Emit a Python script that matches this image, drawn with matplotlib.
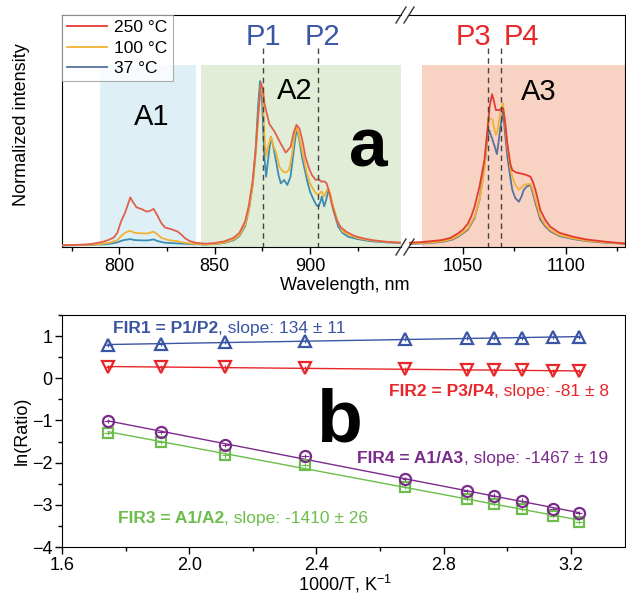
import matplotlib
matplotlib.use('Agg')
import matplotlib.pyplot as plt
import numpy as np

plt.rcParams['font.family'] = ['Liberation Sans', 'DejaVu Sans']
plt.rcParams['mathtext.default'] = 'regular'

# ---- panel a: spectra, left segment (770-948 nm) ----
wl_red_l = [770, 780, 785, 788, 791, 794, 797, 799, 801, 803, 804.5, 805.8, 807, 809, 812, 814.5,
            816.5, 818, 820, 822, 824, 827, 830.5, 832.5, 834.5, 837, 840, 845, 850, 855, 860, 863,
            866, 868, 870, 871.5, 873, 874.3, 875.3, 876.2, 877.2, 878.7, 881.3, 884.7, 887.3, 889.8,
            891.5, 892.9, 894.5, 896, 897.6, 899.5, 901, 903, 904.5, 906, 907.5, 908.7, 910, 911.3,
            913.9, 916, 919, 923, 927.7, 933, 939.7, 947.7]
int_red_l = [0.005, 0.008, 0.012, 0.018, 0.024, 0.035, 0.05, 0.08, 0.15, 0.2, 0.25, 0.295, 0.27, 0.235,
             0.222, 0.208, 0.215, 0.225, 0.185, 0.14, 0.112, 0.103, 0.088, 0.07, 0.047, 0.03, 0.02,
             0.014, 0.018, 0.028, 0.05, 0.08, 0.15, 0.25, 0.4, 0.58, 0.82, 0.99, 0.95, 0.86, 0.81, 0.74,
             0.695, 0.62, 0.566, 0.6, 0.69, 0.735, 0.71, 0.64, 0.54, 0.47, 0.43, 0.4, 0.405, 0.39,
             0.392, 0.38, 0.33, 0.26, 0.16, 0.115, 0.087, 0.062, 0.047, 0.035, 0.026, 0.02]

wl_org_l = [770, 785, 790, 795, 799, 801, 803, 805.8, 808, 811, 814.5, 816.5, 818, 820, 822, 826, 830,
            834, 840, 845, 850, 855, 860, 863, 866, 868, 870, 871.5, 873, 874.3, 875.3, 876.2, 877,
            878, 879.5, 881, 882.1, 884, 885.5, 887.3, 889, 890.5, 892, 892.9, 894, 895.8, 898.4, 900,
            901.9, 903.5, 904.5, 905.5, 906.2, 907.4, 908.5, 909.6, 911, 912.2, 914.8, 917, 920.8, 925,
            931, 940, 947.7]
int_org_l = [0.004, 0.008, 0.012, 0.02, 0.035, 0.06, 0.08, 0.093, 0.08, 0.077, 0.076, 0.082, 0.088,
             0.07, 0.05, 0.035, 0.03, 0.02, 0.012, 0.01, 0.013, 0.02, 0.04, 0.065, 0.13, 0.22, 0.37,
             0.55, 0.8, 0.99, 0.9, 0.65, 0.545, 0.6, 0.662, 0.6, 0.57, 0.48, 0.455, 0.445, 0.46, 0.55,
             0.68, 0.725, 0.68, 0.58, 0.44, 0.38, 0.34, 0.315, 0.31, 0.325, 0.33, 0.3, 0.33, 0.35, 0.3,
             0.238, 0.137, 0.09, 0.066, 0.048, 0.035, 0.025, 0.02]

wl_teal_l = [770, 785, 790, 795, 799, 802, 805.8, 808, 812, 815, 818, 820, 824, 830, 840, 845, 850,
             855, 860, 863, 866, 868, 870, 871.5, 872.8, 873.8, 874.8, 876, 877, 878, 879.5, 880.8,
             882.1, 883.5, 884.7, 886.4, 888.1, 889.8, 891.5, 893, 894.3, 895.8, 898.4, 900, 901.9,
             903.5, 904.5, 905.5, 906.2, 907.4, 908.5, 909.6, 911, 912.2, 914.8, 917, 920, 925, 931,
             940, 947.7]
int_teal_l = [0.003, 0.006, 0.009, 0.013, 0.022, 0.035, 0.042, 0.036, 0.034, 0.034, 0.04, 0.03, 0.02,
              0.016, 0.01, 0.009, 0.012, 0.018, 0.035, 0.06, 0.12, 0.22, 0.38, 0.58, 0.85, 1.0, 0.9,
              0.55, 0.42, 0.52, 0.662, 0.6, 0.52, 0.43, 0.38, 0.4, 0.37, 0.42, 0.58, 0.713, 0.65, 0.54,
              0.4, 0.33, 0.28, 0.245, 0.24, 0.27, 0.3, 0.24, 0.28, 0.34, 0.29, 0.218, 0.117, 0.08,
              0.056, 0.042, 0.03, 0.022, 0.018]

# ---- panel a: spectra, right segment (1024-1129 nm) ----
wl_red_r = [1023.6, 1030, 1035, 1039.6, 1044, 1047.6, 1050, 1052.4, 1054, 1055.6, 1058, 1060.4, 1062,
            1063, 1064.1, 1065, 1066, 1067.6, 1068.5, 1069.5, 1070.5, 1071.6, 1073, 1074, 1076, 1078,
            1080.5, 1082.9, 1084, 1085.3, 1087.7, 1090, 1092.5, 1097, 1103.7, 1110, 1119.6, 1129]
int_red_r = [0.02, 0.024, 0.03, 0.036, 0.05, 0.077, 0.1, 0.137, 0.18, 0.238, 0.36, 0.52, 0.72, 0.85,
             0.92, 0.88, 0.824, 0.824, 0.83, 0.835, 0.75, 0.62, 0.5, 0.46, 0.445, 0.44, 0.432, 0.42,
             0.39, 0.34, 0.218, 0.16, 0.117, 0.08, 0.056, 0.04, 0.026, 0.015]

wl_org_r = [1023.6, 1030, 1040, 1045, 1048, 1052.4, 1055.6, 1058, 1060.4, 1061.8, 1062.8, 1063.6,
            1064.4, 1065.2, 1066, 1066.8, 1067.6, 1068.5, 1069.5, 1070.5, 1071.6, 1073, 1074, 1075.5,
            1077.2, 1078.5, 1079.6, 1081, 1082.9, 1084, 1085.3, 1087.7, 1090, 1092.5, 1097, 1103.7,
            1110, 1119.6, 1129]
int_org_r = [0.015, 0.018, 0.028, 0.045, 0.065, 0.107, 0.178, 0.279, 0.46, 0.68, 0.774, 0.77, 0.764,
             0.71, 0.673, 0.7, 0.764, 0.83, 0.865, 0.74, 0.602, 0.48, 0.42, 0.37, 0.34, 0.355, 0.37,
             0.375, 0.376, 0.34, 0.279, 0.178, 0.13, 0.097, 0.065, 0.046, 0.033, 0.022, 0.015]

wl_teal_r = [1023.6, 1030, 1040, 1045, 1048, 1052.4, 1055.6, 1058, 1060.4, 1061.8, 1062.8, 1063.6,
             1064.4, 1065.5, 1066.5, 1067.3, 1068.2, 1069.5, 1070.5, 1071.6, 1073, 1074, 1075.5,
             1077.2, 1078.5, 1079.6, 1081, 1082.9, 1084, 1085.3, 1087.7, 1090, 1092.5, 1097, 1103.7,
             1110, 1119.6, 1129]
int_teal_r = [0.012, 0.015, 0.025, 0.04, 0.06, 0.1, 0.17, 0.28, 0.48, 0.65, 0.7, 0.67, 0.642, 0.6,
              0.557, 0.63, 0.72, 0.814, 0.68, 0.541, 0.42, 0.34, 0.29, 0.268, 0.3, 0.34, 0.36, 0.37,
              0.32, 0.259, 0.16, 0.12, 0.09, 0.06, 0.042, 0.03, 0.02, 0.014]

temps = ['250 °C', '100 °C', '37 °C']
peaks = {'P1': 875.2, 'P2': 904.0, 'P3': 1062.3, 'P4': 1068.6}

# ---- panel b: ln(ratio) vs 1000/T ----
T_C = np.array([300, 250, 200, 150, 100, 75, 65, 55, 45, 37])
inv_T = 1000.0 / (T_C + 273.15)
fir1 = [0.78, 0.82, 0.86, 0.885, 0.94, 0.95, 0.95, 0.96, 0.97, 0.98]
fir2 = [0.27, 0.26, 0.26, 0.25, 0.22, 0.19, 0.19, 0.19, 0.18, 0.17]
fir3 = [-1.29, -1.51, -1.83, -2.05, -2.57, -2.86, -2.98, -3.09, -3.26, -3.40]
fir4 = [-1.01, -1.27, -1.59, -1.85, -2.38, -2.68, -2.78, -2.90, -3.09, -3.20]

RED, ORG, TEAL = '#e0604c', '#f2b233', '#3b8db4'
C_BLUE, C_RED, C_GREEN, C_PURP = '#3a55a4', '#e8262a', '#6cbd4b', '#7b2b8b'

fig = plt.figure(figsize=(6.26, 5.95), dpi=100)
W, H = 626.0, 595.0

def rect(x0, y0, x1, y1):
    return [x0 / W, 1 - y1 / H, (x1 - x0) / W, (y1 - y0) / H]

axL = fig.add_axes(rect(62, 15, 401, 247))
axR = fig.add_axes(rect(409, 15, 625, 247))

ytop = 1.40
band_top = (247 - 65) / 232.0
axL.axvspan(790, 840, ymin=0, ymax=band_top, color='#def0f6', lw=0, zorder=0)
axL.axvspan(843, 950, ymin=0, ymax=band_top, color='#e1edd6', lw=0, zorder=0)
axR.axvspan(1030, 1135, ymin=0, ymax=band_top, color='#f8d2c2', lw=0, zorder=0)

LW = 1.3
axL.plot(wl_teal_l, int_teal_l, color=TEAL, lw=LW, zorder=3)
axL.plot(wl_org_l, int_org_l, color=ORG, lw=LW, zorder=3)
axL.plot(wl_red_l, int_red_l, color=RED, lw=LW, zorder=3)
axR.plot(wl_teal_r, int_teal_r, color='#56739f', lw=LW, zorder=3, label=temps[2])
axR.plot(wl_org_r, int_org_r, color=ORG, lw=LW, zorder=3, label=temps[1])
axR.plot(wl_red_r, int_red_r, color='#e53a30', lw=LW, zorder=3, label=temps[0])

dash_top = 1.20
for name in ['P1', 'P2']:
    axL.vlines(peaks[name], -0.01, dash_top, colors='#444444', linestyles=(0, (4, 3)), lw=1, zorder=4)
for name in ['P3', 'P4']:
    axR.vlines(peaks[name], -0.01, dash_top, colors='#444444', linestyles=(0, (4, 3)), lw=1, zorder=4)

axL.text(875.5, 1.22, 'P1', color=C_BLUE, fontsize=21, ha='center', va='baseline')
axL.text(906.5, 1.22, 'P2', color=C_BLUE, fontsize=21, ha='center', va='baseline')
axR.text(1054.8, 1.22, 'P3', color=C_RED, fontsize=21, ha='center', va='baseline')
axR.text(1078.3, 1.22, 'P4', color=C_RED, fontsize=21, ha='center', va='baseline')
axL.text(816.8, 0.733, 'A1', fontsize=21, ha='center', va='baseline')
axL.text(891.9, 0.89, 'A2', fontsize=21, ha='center', va='baseline')
axR.text(1087, 0.885, 'A3', fontsize=21, ha='center', va='baseline')
axL.text(920.2, 0.479, 'a', fontsize=50, fontweight='bold', ha='left', va='baseline')

axL.set_xlim(770, 947.7)
axR.set_xlim(1023.6, 1129)
for ax in (axL, axR):
    ax.set_ylim(-0.006, ytop)
    ax.set_yticks([])
    ax.tick_params(axis='x', direction='out', length=5, width=1, labelsize=13, pad=3)
    ax.tick_params(axis='x', which='minor', direction='out', length=3, width=1)
axL.set_xticks([800, 850, 900])
axL.set_xticks([775, 825, 875, 925], minor=True)
axR.set_xticks([1050, 1100])
axR.set_xticks([1075, 1125], minor=True)
axL.spines['right'].set_visible(False)
axR.spines['left'].set_visible(False)
axR.tick_params(axis='y', left=False)

# break marks
for yb in (15, 247):
    for xb in (401, 409):
        fig.add_artist(plt.Line2D([(xb - 5) / W, (xb + 5) / W], [1 - (yb + 8) / H, 1 - (yb - 8) / H],
                                  color='#333333', lw=1))

fig.text(22 / W, 1 - 125 / H, 'Normalized intensity', fontsize=13, rotation=90, ha='center', va='center')
fig.text(345 / W, 1 - 285 / H, 'Wavelength, nm', fontsize=13, ha='center', va='center')

h, l = axR.get_legend_handles_labels()
leg = axL.legend(h[::-1], l[::-1], loc='upper left', bbox_to_anchor=(0, 1), borderaxespad=0,
                 fontsize=12.5, frameon=True, fancybox=False, edgecolor='#999999', handlelength=2.3,
                 labelspacing=0.3, borderpad=0.3, handletextpad=0.4)
leg.get_frame().set_linewidth(0.8)
leg.set_zorder(6)

# ---- panel b ----
axB = fig.add_axes(rect(62, 315, 625, 547))

series = [(fir1, C_BLUE, '^', 8.5), (fir2, C_RED, 'v', 8.5), (fir3, C_GREEN, 's', 6.5),
          (fir4, C_PURP, 'o', 8)]
for yv, col, mk, ms in series:
    k, b = np.polyfit(inv_T, yv, 1)
    xx = np.array([inv_T.min(), inv_T.max()])
    axB.plot(xx, k * xx + b, color=col, lw=1, zorder=2)
    axB.errorbar(inv_T, yv, yerr=0.05, xerr=0.012, fmt=mk, ms=ms, mfc='none', mec=col, mew=1.6,
                 ecolor=col, elinewidth=0.8, capsize=0, zorder=3)

def two_part(ax, x, y, bold, rest, col):
    t1 = ax.text(x, y, bold, color=col, fontsize=12.5, fontweight='bold', va='baseline')
    ax.annotate(rest, xy=(1, 0), xycoords=t1, va='bottom', ha='left', color=col, fontsize=12.5)

two_part(axB, 1.761, 1.08, 'FIR1 = P1/P2', ', slope: 134 ± 11', C_BLUE)
two_part(axB, 2.627, -0.41, 'FIR2 = P3/P4', ', slope: -81 ± 8', C_RED)
two_part(axB, 2.529, -2.0, 'FIR4 = A1/A3', ', slope: -1467 ± 19', C_PURP)
two_part(axB, 1.776, -3.42, 'FIR3 = A1/A2', ', slope: -1410 ± 26', C_GREEN)
axB.text(2.40, -1.51, 'b', fontsize=54, fontweight='bold', ha='left', va='baseline')

axB.set_xlim(1.6, 3.37)
axB.set_ylim(-4, 1.5)
axB.set_xticks([1.6, 2.0, 2.4, 2.8, 3.2])
axB.set_xticklabels(['1.6', '2.0', '2.4', '2.8', '3.2'])
axB.set_xticks([1.8, 2.2, 2.6, 3.0], minor=True)
axB.set_yticks([-4, -3, -2, -1, 0, 1])
axB.set_yticks(np.arange(-3.5, 1.6, 1.0), minor=True)
axB.tick_params(axis='both', direction='out', length=5, width=1, labelsize=13, pad=2)
axB.tick_params(axis='both', which='minor', direction='out', length=3, width=1)
fig.text(345 / W, 1 - 584 / H, '1000/T, K$^{-1}$', fontsize=13, ha='center', va='center')
fig.text(22 / W, 1 - 431 / H, 'ln(Ratio)', fontsize=13, rotation=90, ha='center', va='center')

fig.savefig('out.png', dpi=100)
